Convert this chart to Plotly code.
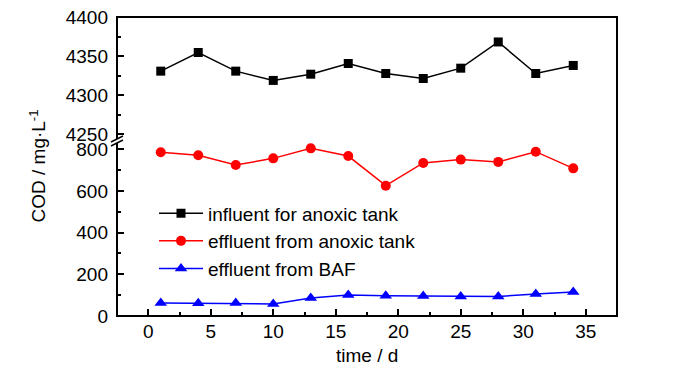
import plotly.graph_objects as go

# ---- data ----
days = [1, 4, 7, 10, 13, 16, 19, 22, 25, 28, 31, 34]
influent_anoxic = [4330.6, 4354.5, 4330.6, 4318.7, 4326.7, 4340.4, 4327.6, 4321.2, 4334.4, 4368.0, 4327.6, 4337.9]
effluent_anoxic = [785, 771, 724, 756, 804, 767, 625, 734, 750, 739, 788, 708]
effluent_baf = [62, 61, 62, 58, 86, 101, 97, 96, 94, 94, 105, 115]
series_names = ["influent for anoxic tank", "effluent from anoxic tank", "effluent from BAF"]

x_ticks = [0, 5, 10, 15, 20, 25, 30, 35]
upper_ticks = [4250, 4300, 4350, 4400]
lower_ticks = [0, 200, 400, 600, 800]

FONT = "Liberation Sans, Arial, sans-serif"
W, H = 700, 374
ML, MR, MT, MB = 117, 83, 17, 58
plot_h = H - MT - MB
break_frac = 0.5987

fig = go.Figure()
fig.add_trace(go.Scatter(x=days, y=influent_anoxic, name=series_names[0], yaxis="y2",
                         mode="lines+markers", line=dict(color="black", width=1.5),
                         marker=dict(symbol="square", size=9, color="black"), legendgroup="a"))
fig.add_trace(go.Scatter(x=days, y=effluent_anoxic, name=series_names[1], yaxis="y",
                         mode="lines+markers", line=dict(color="#ff0000", width=1.5),
                         marker=dict(symbol="circle", size=10, color="#ff0000"), legendgroup="b"))
fig.add_trace(go.Scatter(x=days, y=effluent_baf, name=series_names[2], yaxis="y",
                         mode="lines+markers", line=dict(color="#0000ff", width=1.5),
                         marker=dict(symbol="triangle-up", size=11, color="#0000ff"), legendgroup="c"))

tickfont = dict(family=FONT, size=19, color="black")
common_y = dict(ticks="inside", ticklen=7, tickwidth=1.5, tickcolor="black", showgrid=False,
                zeroline=False, showline=False, tickfont=tickfont, ticklabelstandoff=8,
                automargin=False)

fig.update_layout(
    template="none",
    width=W, height=H,
    margin=dict(l=ML, r=MR, t=MT, b=MB, autoexpand=False),
    plot_bgcolor="white", paper_bgcolor="white",
    showlegend=True,
    legend=dict(x=0.074, y=0.407, xanchor="left", yanchor="top", bgcolor="rgba(0,0,0,0)",
                font=dict(family=FONT, size=19, color="black"), itemwidth=44,
                tracegroupgap=0),
    xaxis=dict(range=[-2.5, 37.5], tickvals=x_ticks, ticks="inside", ticklen=7, tickwidth=1.5,
               tickcolor="black", showgrid=False, zeroline=False, showline=False,
               tickfont=tickfont, ticklabelstandoff=2, automargin=False,
               minor=dict(dtick=2.5, tick0=0, ticks="inside", ticklen=4, tickwidth=1.5, tickcolor="black"),
               anchor="y"),
    yaxis=dict(domain=[0, break_frac], range=[0, 858.5], tickvals=lower_ticks, anchor="x",
               minor=dict(dtick=100, tick0=0, ticks="inside", ticklen=4, tickwidth=1.5, tickcolor="black"),
               **common_y),
    yaxis2=dict(domain=[break_frac, 1], range=[4246.2, 4400], tickvals=upper_ticks, anchor="x",
                minor=dict(dtick=25, tick0=4250, ticks="inside", ticklen=4, tickwidth=1.5, tickcolor="black"),
                **common_y),
)

# frame
fig.add_shape(type="rect", xref="paper", yref="paper", x0=0, x1=1, y0=0, y1=1,
              line=dict(color="black", width=2), fillcolor="rgba(0,0,0,0)", layer="above")
# axis break marks on the left axis
fig.add_shape(type="path", xref="paper", yref="paper", xsizemode="pixel", ysizemode="pixel",
              xanchor=0, yanchor=break_frac,
              path="M-6,-5 L6,1 L6,-3 L-6,-9 Z", fillcolor="white", line=dict(color="white", width=0),
              layer="above")
fig.add_shape(type="path", xref="paper", yref="paper", xsizemode="pixel", ysizemode="pixel",
              xanchor=0, yanchor=break_frac, path="M-6,-5 L6,1",
              line=dict(color="black", width=1.5), layer="above")
fig.add_shape(type="path", xref="paper", yref="paper", xsizemode="pixel", ysizemode="pixel",
              xanchor=0, yanchor=break_frac, path="M-6,-9 L6,-3",
              line=dict(color="black", width=1.5), layer="above")

# axis titles
fig.add_annotation(text="time / d", xref="paper", yref="paper", x=0.5, y=(316 - 355) / plot_h,
                   xanchor="center", yanchor="middle", showarrow=False,
                   font=dict(family=FONT, size=19, color="black"))
fig.add_annotation(text="COD / mg·L<sup>-1</sup>", xref="paper", yref="paper",
                   x=(37 - ML) / (W - ML - MR), y=0.5, textangle=-90,
                   xanchor="center", yanchor="middle", showarrow=False,
                   font=dict(family=FONT, size=19, color="black"))

fig.write_html("out.html", config={"displayModeBar": False},
               post_script="document.body.style.margin='0';document.body.style.overflow='hidden';")
